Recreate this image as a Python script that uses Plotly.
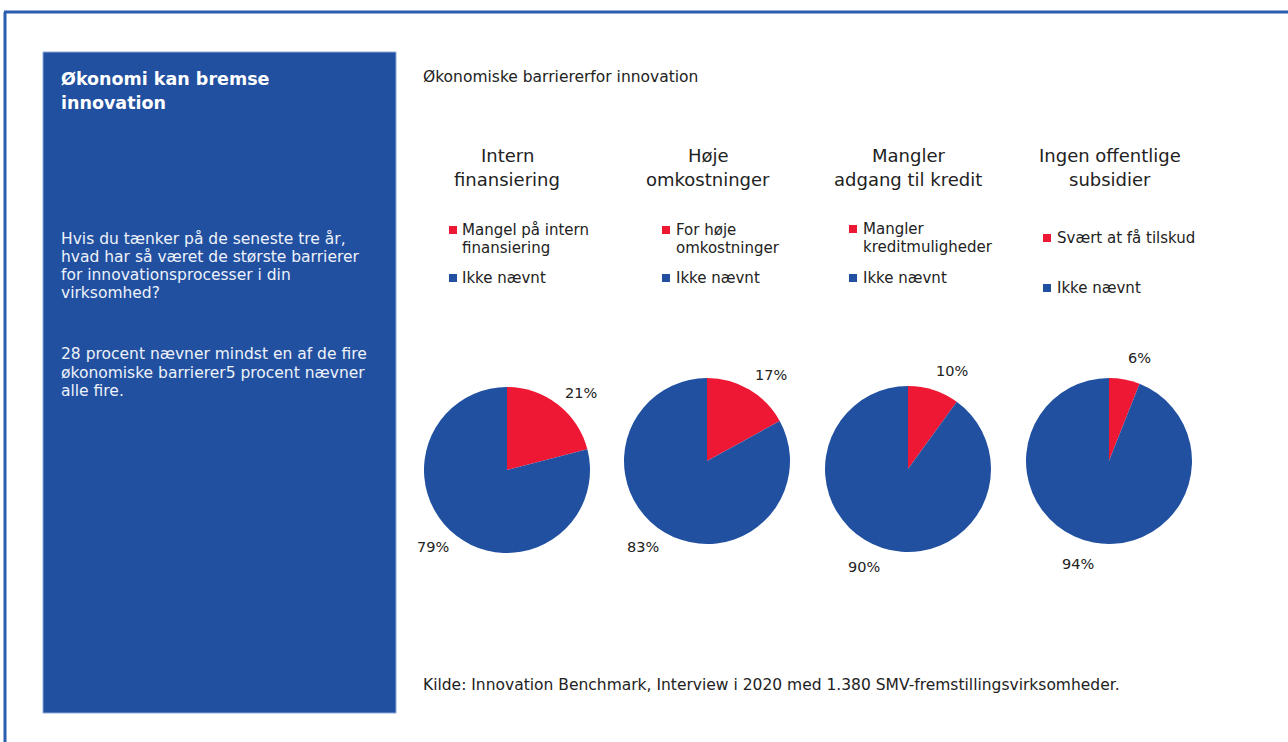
import math
import plotly.graph_objects as go

# ---------------- data ----------------
pie_titles = [["Intern", "finansiering"],
              ["Høje", "omkostninger"],
              ["Mangler", "adgang til kredit"],
              ["Ingen offentlige", "subsidier"]]
barrier_labels = ["Mangel på intern<br>finansiering",
                  "For høje<br>omkostninger",
                  "Mangler<br>kreditmuligheder",
                  "Svært at få tilskud"]
not_mentioned_label = "Ikke nævnt"
barrier_pct = [21, 17, 10, 6]
not_mentioned_pct = [79, 83, 90, 94]

panel_title = ["Økonomi kan bremse", "innovation"]
panel_text1 = ["Hvis du tænker på de seneste tre år,",
               "hvad har så været de største barrierer",
               "for innovationsprocesser i din",
               "virksomhed?"]
panel_text2 = ["28 procent nævner mindst en af de fire",
               "økonomiske barrierer5 procent nævner",
               "alle fire."]
chart_header = "Økonomiske barriererfor innovation"
source_note = "Kilde: Innovation Benchmark, Interview i 2020 med 1.380 SMV-fremstillingsvirksomheder."

# ---------------- layout constants ----------------
W, H = 1288, 742
RED = "#EE1834"
BLUE = "#2150A0"
FONT = "DejaVu Sans"
TXT = "#222222"
pie_centers = [(507, 470), (707, 461), (908, 469), (1109, 461)]
pie_r = 83
title_x = [507, 708, 908, 1110]
legend_pos = [  # (square x, text x, red line y, blue y)
    (453, 460, 230, 278),
    (666, 674, 230, 278),
    (853, 861, 229, 278),
    (1047, 1055, 238, 288),
]


def px(x):
    return x / W


def py(y):
    return 1 - y / H


fig = go.Figure()
annotations = []
shapes = []


def text_at(x, y, s, size, color=TXT, xanchor="left", yanchor="middle", bold=False):
    annotations.append(dict(x=px(x), y=py(y), xref="paper", yref="paper",
                            text=f"<b>{s}</b>" if bold else s, showarrow=False,
                            xanchor=xanchor, yanchor=yanchor, align="left",
                            font=dict(family=FONT, size=size, color=color)))


for i in range(4):
    cx, cy = pie_centers[i]
    fig.add_trace(go.Pie(
        labels=[barrier_labels[i], not_mentioned_label],
        values=[barrier_pct[i], not_mentioned_pct[i]],
        marker=dict(colors=[RED, BLUE], line=dict(width=0)),
        sort=False, direction="clockwise", rotation=0,
        textinfo="none", showlegend=False,
        domain=dict(x=[px(cx - pie_r), px(cx + pie_r)], y=[py(cy + pie_r), py(cy - pie_r)]),
    ))
    # percentage labels placed outside the slices, positioned from the data
    total = barrier_pct[i] + not_mentioned_pct[i]
    start = 0.0
    for v in (barrier_pct[i], not_mentioned_pct[i]):
        mid = (start + v / 2) / total * 360 + 6
        start += v
        rr = pie_r * 1.29
        lx = cx + rr * math.sin(math.radians(mid))
        ly = cy - rr * math.cos(math.radians(mid))
        text_at(lx, ly, f"{v}%", 14.5, xanchor="center")
    # titles
    for j, line in enumerate(pie_titles[i]):
        text_at(title_x[i], 155 + 24 * j, line, 18, xanchor="center")
    # legends
    sx, tx, ry, by = legend_pos[i]
    for j, line in enumerate(barrier_labels[i].split("<br>")):
        text_at(tx, ry + 18 * j, line, 15)
    text_at(tx, by, not_mentioned_label, 15)
    for yy, col in ((ry, RED), (by, BLUE)):
        shapes.append(dict(type="rect", xref="paper", yref="paper",
                           x0=px(sx - 4), x1=px(sx + 4), y0=py(yy + 4), y1=py(yy - 4),
                           fillcolor=col, line=dict(width=0)))

# frame lines
shapes.append(dict(type="line", xref="paper", yref="paper", x0=px(4), x1=1, y0=py(12), y1=py(12),
                   line=dict(color="#2A5CB0", width=3)))
shapes.append(dict(type="line", xref="paper", yref="paper", x0=px(5), x1=px(5), y0=py(12), y1=0,
                   line=dict(color="#2A5CB0", width=3)))
# left blue panel
shapes.append(dict(type="rect", xref="paper", yref="paper", x0=px(43), x1=px(396), y0=py(713), y1=py(52),
                   fillcolor=BLUE, line=dict(color="#8FA8D8", width=1), layer="below"))

for j, line in enumerate(panel_title):
    text_at(59, 79 + 24 * j, line, 17.5, color="white", bold=True)
for j, line in enumerate(panel_text1):
    text_at(59, 239 + 18 * j, line, 15.5, color="#EEF2FA")
for j, line in enumerate(panel_text2):
    text_at(59, 354 + 18.5 * j, line, 15.5, color="#EEF2FA")
text_at(421, 77, chart_header, 15.5)
text_at(421, 685, source_note, 15.5)

fig.update_layout(
    width=W, height=H,
    margin=dict(l=0, r=0, t=0, b=0),
    paper_bgcolor="white", plot_bgcolor="white",
    annotations=annotations, shapes=shapes,
)

fig.write_html("out.html", config={"displayModeBar": False})
